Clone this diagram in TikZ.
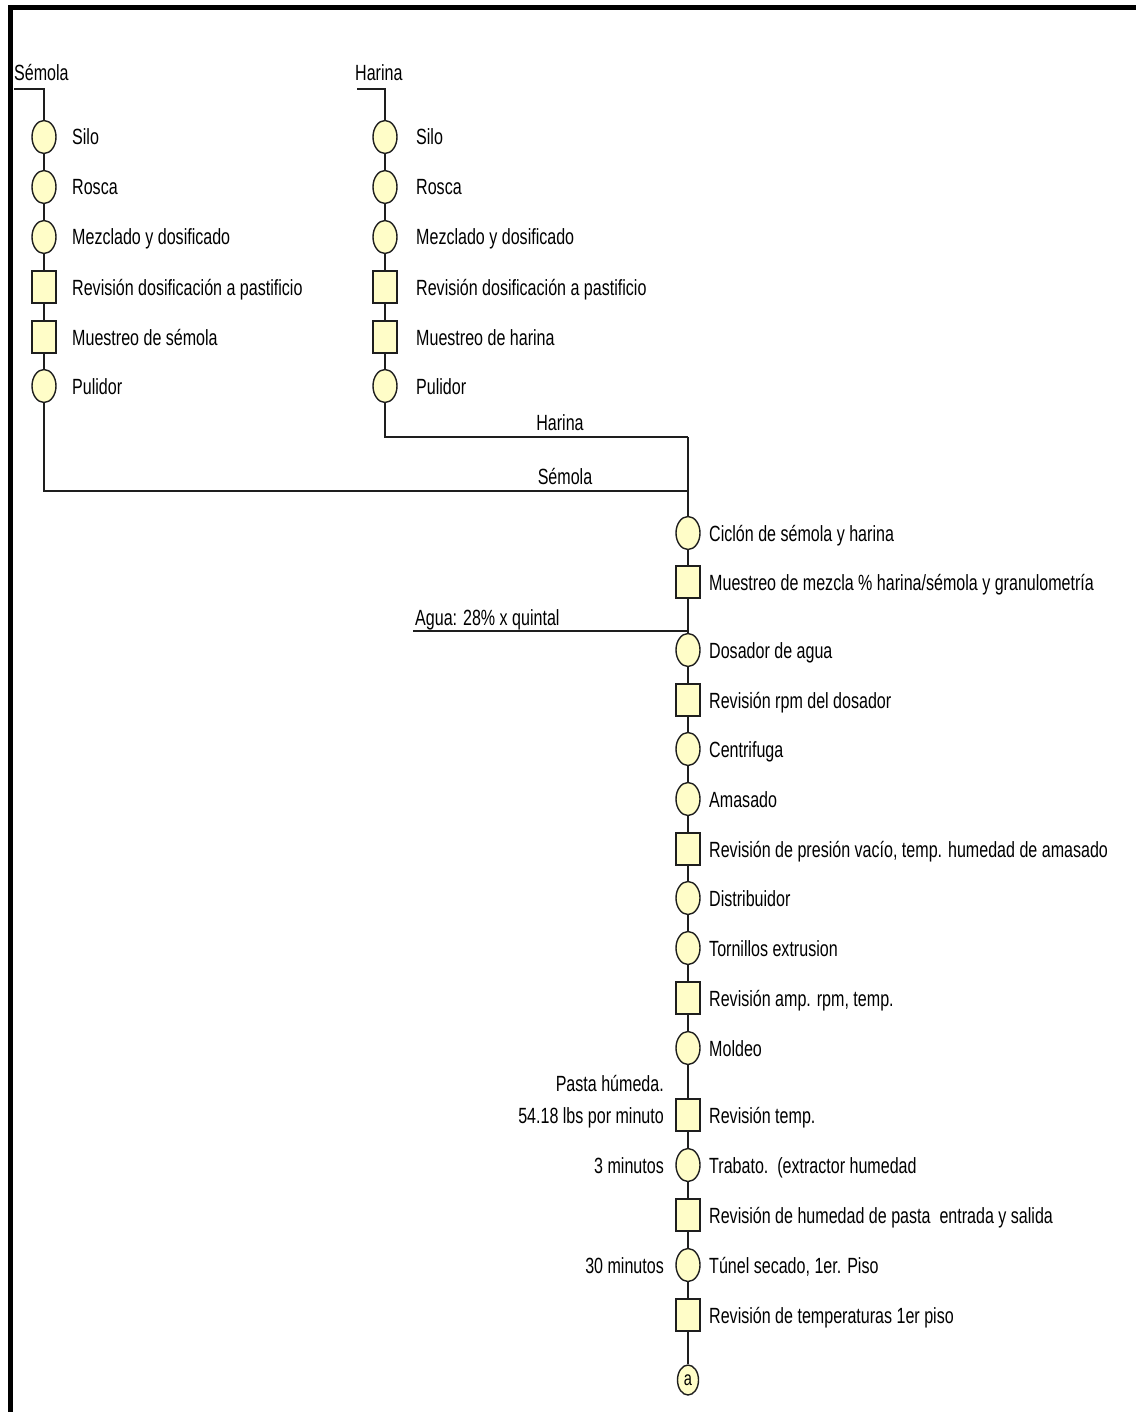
\documentclass[tikz,border=0pt]{standalone}
\usepackage{fontspec}
\setmainfont[FakeStretch=0.73]{Liberation Sans}
\usetikzlibrary{shapes.geometric}
\definecolor{opfill}{RGB}{255,253,200}
\definecolor{edge}{RGB}{30,30,30}
\tikzset{
  op/.style={ellipse, draw=edge, line width=1.4pt, fill=opfill, minimum width=24pt, minimum height=33pt, inner sep=0pt},
  insp/.style={rectangle, draw=edge, line width=1.4pt, fill=opfill, minimum width=24pt, minimum height=32pt, inner sep=0pt},
  txt/.style={inner sep=0pt, font=\fontsize{22}{26}\selectfont, text height=21pt, text depth=5pt},
  lbl/.style={txt, anchor=west},
  rlbl/.style={txt, anchor=east},
  flow/.style={draw=edge, line width=1.4pt},
  conn/.style={ellipse, draw=edge, line width=1.4pt, fill=opfill, minimum width=21pt, minimum height=30pt, inner sep=0pt, font=\fontsize{20}{22}\selectfont}
}
\begin{document}
\begin{tikzpicture}[x=1pt,y=-1pt]
\useasboundingbox (0,0) rectangle (1136,1412);
\fill[white] (0,0) rectangle (1136,1412);
% frame
\draw[line width=5pt] (10,1412) -- (10,7.5) -- (1136,7.5);

% ---------- Semola column ----------
\node[lbl] (semt) at (14,73) {Sémola};
\coordinate (semh) at (14,89);
\node[op]   (s1) at (44,137) {};
\node[op]   (s2) at (44,187) {};
\node[op]   (s3) at (44,237) {};
\node[insp] (s4) at (44,287) {};
\node[insp] (s5) at (44,337) {};
\node[op]   (s6) at (44,386) {};
\node[lbl] (s1t) at (72,137) {Silo};
\node[lbl] (s2t) at (72,187) {Rosca};
\node[lbl] (s3t) at (72,237) {Mezclado y dosificado};
\node[lbl] (s4t) at (72,287) {Revisión dosificación a pastificio};
\node[lbl] (s5t) at (72,337) {Muestreo de sémola};
\node[lbl] (s6t) at (72,386) {Pulidor};
\draw[flow] (semh) -| (s1.north);
\draw[flow] (s1) -- (s2); \draw[flow] (s2) -- (s3); \draw[flow] (s3) -- (s4);
\draw[flow] (s4) -- (s5); \draw[flow] (s5) -- (s6);

% ---------- Harina column ----------
\node[lbl] (hart) at (355,73) {Harina};
\coordinate (harh) at (357,89);
\node[op]   (h1) at (385,137) {};
\node[op]   (h2) at (385,187) {};
\node[op]   (h3) at (385,237) {};
\node[insp] (h4) at (385,287) {};
\node[insp] (h5) at (385,337) {};
\node[op]   (h6) at (385,386) {};
\node[lbl] (h1t) at (416,137) {Silo};
\node[lbl] (h2t) at (416,187) {Rosca};
\node[lbl] (h3t) at (416,237) {Mezclado y dosificado};
\node[lbl] (h4t) at (416,287) {Revisión dosificación a pastificio};
\node[lbl] (h5t) at (416,337) {Muestreo de harina};
\node[lbl] (h6t) at (416,386) {Pulidor};
\draw[flow] (harh) -| (h1.north);
\draw[flow] (h1) -- (h2); \draw[flow] (h2) -- (h3); \draw[flow] (h3) -- (h4);
\draw[flow] (h4) -- (h5); \draw[flow] (h5) -- (h6);

% ---------- merge ----------
\coordinate (jh) at (688,437);
\coordinate (js) at (688,491);
\draw[flow] (h6.south) |- (jh);
\draw[flow] (s6.south) |- (js);
\node[txt] (harl) at (560,422) {Harina};
\node[txt] (seml) at (565,476) {Sémola};

% ---------- main column ----------
\node[op]   (m1)  at (688,533) {};
\node[insp] (m2)  at (688,582) {};
\node[op]   (m3)  at (688,650) {};
\node[insp] (m4)  at (688,700) {};
\node[op]   (m5)  at (688,749) {};
\node[op]   (m6)  at (688,799) {};
\node[insp] (m7)  at (688,849) {};
\node[op]   (m8)  at (688,898) {};
\node[op]   (m9)  at (688,948) {};
\node[insp] (m10) at (688,998) {};
\node[op]   (m11) at (688,1048) {};
\node[insp] (m12) at (688,1115) {};
\node[op]   (m13) at (688,1165) {};
\node[insp] (m14) at (688,1215) {};
\node[op]   (m15) at (688,1265) {};
\node[insp] (m16) at (688,1315) {};
\node[conn] (ma)  at (688,1380) {a};

\node[lbl] (m1t)  at (709,533)  {Ciclón de sémola y harina};
\node[lbl] (m2t)  at (709,582)  {Muestreo de mezcla \% harina/sémola y granulometría};
\node[lbl] (m3t)  at (709,650)  {Dosador de agua};
\node[lbl] (m4t)  at (709,700)  {Revisión rpm del dosador};
\node[lbl] (m5t)  at (709,749)  {Centrifuga};
\node[lbl] (m6t)  at (709,799)  {Amasado};
\node[lbl] (m7t)  at (709,849)  {Revisión de presión vacío, temp. humedad de amasado};
\node[lbl] (m8t)  at (709,898)  {Distribuidor};
\node[lbl] (m9t)  at (709,948)  {Tornillos extrusion};
\node[lbl] (m10t) at (709,998)  {Revisión amp. rpm, temp.};
\node[lbl] (m11t) at (709,1048) {Moldeo};
\node[lbl] (m12t) at (709,1115) {Revisión temp.};
\node[lbl] (m13t) at (709,1165) {Trabato.\ \ (extractor humedad};
\node[lbl] (m14t) at (709,1215) {Revisión de humedad de pasta\ \ entrada y salida};
\node[lbl] (m15t) at (709,1265) {Túnel secado, 1er. Piso};
\node[lbl] (m16t) at (709,1315) {Revisión de temperaturas 1er piso};

\node[rlbl] (ph1) at (664,1083) {Pasta húmeda.};
\node[rlbl] (ph2) at (664,1115) {54.18 lbs por minuto};
\node[rlbl] (t3)  at (664,1165) {3 minutos};
\node[rlbl] (t30) at (664,1265) {30 minutos};

% water input
\coordinate (agua) at (413,631);
\coordinate (aguaj) at (688,631);
\node[lbl] (aguat) at (415,617) {Agua: 28\% x quintal};
\draw[flow] (agua) -- (aguaj);

\draw[flow] (jh) -- (m1.north);
\draw[flow] (m1) -- (m2); \draw[flow] (m2) -- (m3); \draw[flow] (m3) -- (m4);
\draw[flow] (m4) -- (m5); \draw[flow] (m5) -- (m6); \draw[flow] (m6) -- (m7);
\draw[flow] (m7) -- (m8); \draw[flow] (m8) -- (m9); \draw[flow] (m9) -- (m10);
\draw[flow] (m10) -- (m11); \draw[flow] (m11) -- (m12); \draw[flow] (m12) -- (m13);
\draw[flow] (m13) -- (m14); \draw[flow] (m14) -- (m15); \draw[flow] (m15) -- (m16);
\draw[flow] (m16) -- (ma);
\end{tikzpicture}
\end{document}
